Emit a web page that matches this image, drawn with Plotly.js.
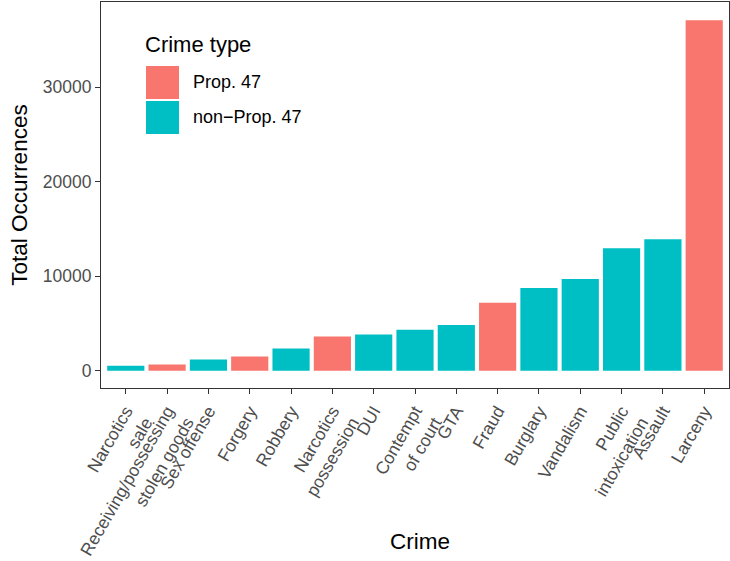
<!DOCTYPE html>
<html>
<head>
<meta charset="utf-8">
<script src="https://cdn.plot.ly/plotly-3.0.1.min.js"></script>
<style>html,body{margin:0;padding:0;background:#fff;}#chart{width:730px;height:561px;}</style>
</head>
<body>
<div id="chart"></div>
<script>
// Categories in display order
const crimes = ["Narcotics<br>sale", "Receiving/possessing<br>stolen goods", "Sex offense", "Forgery", "Robbery",
  "Narcotics<br>possession", "DUI", "Contempt<br>of court", "GTA", "Fraud", "Burglary", "Vandalism",
  "Public<br>intoxication", "Assault", "Larceny"];
const totals = [530, 660, 1190, 1500, 2350, 3610, 3820, 4320, 4840, 7190, 8740, 9690, 12950, 13900, 37060];
const crimeType = ["non-Prop. 47", "Prop. 47", "non-Prop. 47", "Prop. 47", "non-Prop. 47",
  "Prop. 47", "non-Prop. 47", "non-Prop. 47", "non-Prop. 47", "Prop. 47", "non-Prop. 47", "non-Prop. 47",
  "non-Prop. 47", "non-Prop. 47", "Prop. 47"];
const typeNames = ["Prop. 47", "non-Prop. 47"];
const typeLabels = ["Prop. 47", "non\u2212Prop. 47"];
const typeColors = ["#F8766D", "#00BFC4"];
const yTicks = [0, 10000, 20000, 30000];

const font = "Liberation Sans, Arial, Helvetica, sans-serif";
const traces = typeNames.map((t, k) => {
  const xs = [], ys = [];
  crimes.forEach((c, i) => { if (crimeType[i] === t) { xs.push(c); ys.push(totals[i]); } });
  return {type: "bar", name: typeLabels[k], x: xs, y: ys, marker: {color: typeColors[k], line: {width: 0}},
          showlegend: false, hovertemplate: "%{x}: %{y}<extra></extra>"};
});

// legend drawn in paper coordinates (plot area: x 101..729, y 2..388)
const L = 101, W = 628, T = 2, H = 386;
const px = v => (v - L) / W, py = v => (T + H - v) / H;
const shapes = [], annotations = [];
typeNames.forEach((t, k) => {
  const top = 66 + k * 35;
  shapes.push({type: "rect", xref: "paper", yref: "paper", x0: px(146), x1: px(179), y0: py(top + 33), y1: py(top),
               fillcolor: typeColors[k], line: {width: 0}});
  annotations.push({xref: "paper", yref: "paper", x: px(191), y: py(top + 16.5), xanchor: "left", yanchor: "middle",
                    text: typeLabels[k], showarrow: false, font: {family: font, size: 18, color: "#000"}});
});
annotations.push({xref: "paper", yref: "paper", x: px(143), y: py(44), xanchor: "left", yanchor: "middle",
                  text: "Crime type", showarrow: false, font: {family: font, size: 22, color: "#000"}});
annotations.push({xref: "paper", yref: "paper", x: px(420), y: py(541), xanchor: "center", yanchor: "middle",
                  text: "Crime", showarrow: false, font: {family: font, size: 22.5, color: "#000"}});

const layout = {
  width: 730, height: 561,
  margin: {l: L, r: 730 - L - W, t: T, b: 561 - T - H},
  paper_bgcolor: "#fff", plot_bgcolor: "#fff",
  barmode: "overlay", bargap: 0.1,
  font: {family: font},
  xaxis: {type: "category", categoryorder: "array", categoryarray: crimes, range: [-0.6, 14.6],
          showgrid: false, zeroline: false, showline: true, mirror: true, linecolor: "#333", linewidth: 1,
          ticks: "outside", ticklen: 5, tickcolor: "#333", tickwidth: 1, tickangle: -60,
          tickfont: {family: font, size: 17.5, color: "#4D4D4D"}, automargin: false},
  yaxis: {range: [-1830, 38990], tickvals: yTicks, ticktext: yTicks.map(String),
          showgrid: false, zeroline: false, showline: true, mirror: true, linecolor: "#333", linewidth: 1,
          ticks: "outside", ticklen: 5, tickcolor: "#333", tickwidth: 1,
          tickfont: {family: font, size: 17.5, color: "#4D4D4D"}, automargin: false,
          title: {text: "Total Occurrences", font: {family: font, size: 22.5, color: "#000"}, standoff: 8}},
  shapes: shapes, annotations: annotations
};
Plotly.newPlot("chart", traces, layout, {displayModeBar: false, staticPlot: true});
</script>
</body>
</html>
